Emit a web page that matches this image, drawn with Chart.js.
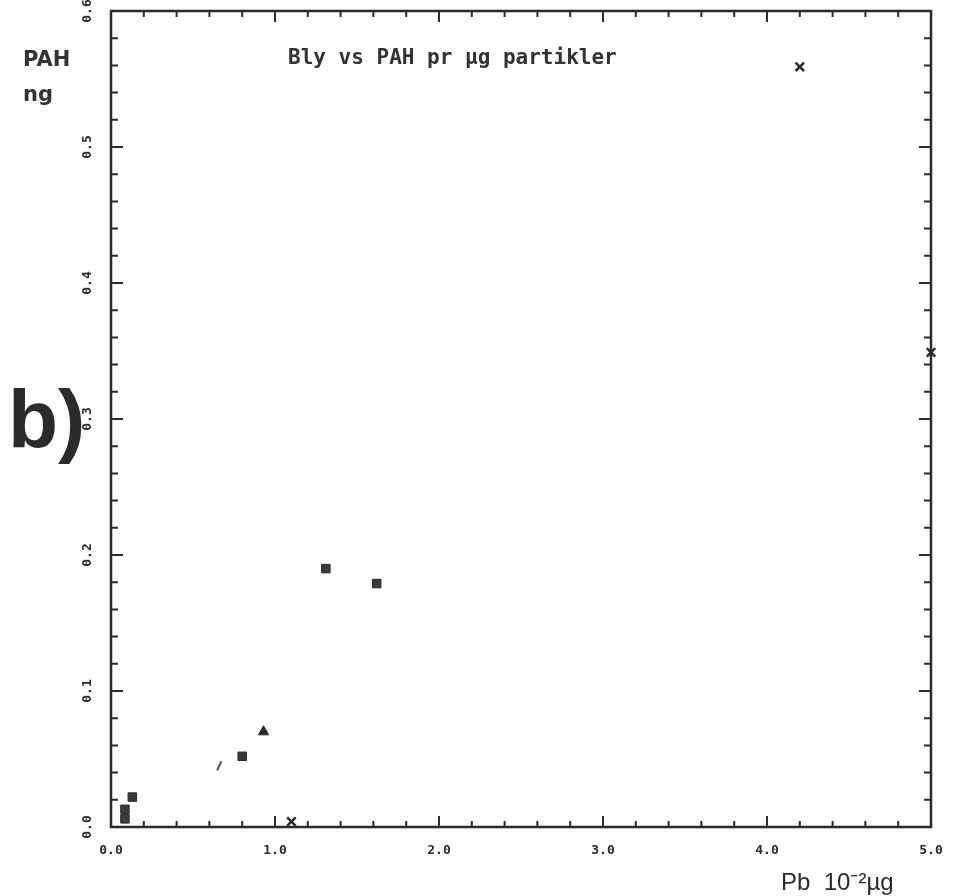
<!DOCTYPE html>
<html>
<head>
<meta charset="utf-8">
<script src="https://cdn.jsdelivr.net/npm/chart.js@4.4.1/dist/chart.umd.min.js"></script>
<style>
  html, body { margin: 0; padding: 0; background: #fdfdfd; }
  #wrap { width: 954px; height: 896px; }
</style>
</head>
<body>
<div id="wrap"><canvas id="plot" width="954" height="896"></canvas></div>
<script>
// Bly vs PAH
var crossX = [4.20, 5.00, 1.10];
var crossY = [0.559, 0.349, 0.004];

var squareX = [1.31, 1.62, 0.80, 0.13, 0.085, 0.085];
var squareY = [0.190, 0.179, 0.052, 0.022, 0.013, 0.006];

var triX = [0.93];
var triY = [0.070];

var slashX = [0.66];
var slashY = [0.045];

var xTicks = [0, 1, 2, 3, 4, 5];
var yTicks = [0, 0.1, 0.2, 0.3, 0.4, 0.5, 0.6];

const INK = "#2b2b2b";

function pts(xs, ys) {
  return xs.map(function(v, i) { return { x: v, y: ys[i] }; });
}

// frame, inward ticks and the loose texts
var framePlugin = {
  id: 'frame',
  afterDraw: function(chart) {
    var ctx = chart.ctx;
    var a = chart.chartArea;
    var sx = chart.scales.x, sy = chart.scales.y;
    ctx.save();
    ctx.strokeStyle = INK;
    ctx.lineWidth = 2.5;
    ctx.strokeRect(a.left, a.top, a.right - a.left, a.bottom - a.top);

    ctx.lineWidth = 2;
    ctx.beginPath();
    for (var i = 0; i <= 25; i++) {
      var v = i * 0.2;
      var px = sx.getPixelForValue(v);
      var len = (i % 5 === 0) ? 11 : 6;
      ctx.moveTo(px, a.bottom); ctx.lineTo(px, a.bottom - len);
      ctx.moveTo(px, a.top); ctx.lineTo(px, a.top + len);
    }
    for (var j = 0; j <= 30; j++) {
      var w = j * 0.02;
      var py = sy.getPixelForValue(w);
      var l2 = (j % 5 === 0) ? 12 : 7;
      ctx.moveTo(a.left, py); ctx.lineTo(a.left + l2, py);
      ctx.moveTo(a.right, py); ctx.lineTo(a.right - l2, py);
    }
    ctx.stroke();

    ctx.fillStyle = "#333";
    ctx.textBaseline = "alphabetic";
    ctx.font = "bold 21px 'DejaVu Sans Mono'";
    ctx.textAlign = "left";
    ctx.fillText("Bly vs PAH pr µg partikler", 288, 64);

    ctx.font = "bold 21px 'DejaVu Sans'";
    ctx.fillText("PAH", 23, 66);
    ctx.fillText("ng", 23, 101);

    ctx.fillStyle = INK;
    ctx.font = "bold 82px 'Liberation Sans'";
    ctx.fillText("b)", 8, 447);

    ctx.font = "24px 'Liberation Sans'";
    ctx.fillText("Pb  10⁻²µg", 781, 890);
    ctx.restore();
  }
};

var chart = new Chart(document.getElementById("plot"), {
  type: 'scatter',
  data: {
    datasets: [
      { data: pts(crossX, crossY), pointStyle: 'crossRot', radius: 6, borderWidth: 2.5,
        borderColor: INK, backgroundColor: INK, clip: false },
      { data: pts(squareX, squareY), pointStyle: 'rect', radius: 6, borderWidth: 1,
        borderColor: INK, backgroundColor: "#3a3a3a", clip: false },
      { data: pts(triX, triY), pointStyle: 'triangle', radius: 6, borderWidth: 1,
        borderColor: INK, backgroundColor: INK, clip: false },
      { data: pts(slashX, slashY), pointStyle: 'line', rotation: -65, radius: 5, borderWidth: 2,
        borderColor: "#555", clip: false }
    ]
  },
  options: {
    responsive: false,
    animation: false,
    devicePixelRatio: 1,
    layout: { padding: { left: 0, right: 23, top: 11, bottom: 0 } },
    plugins: {
      legend: { display: false },
      tooltip: { enabled: false },
      title: { display: false }
    },
    scales: {
      x: {
        type: 'linear', min: 0, max: 5,
        grid: { display: false, drawTicks: false },
        border: { display: false },
        afterBuildTicks: function(s) { s.ticks = xTicks.map(function(v) { return { value: v }; }); },
        ticks: {
          padding: 16, color: INK,
          font: { family: "'DejaVu Sans Mono'", size: 13, weight: 'bold' },
          callback: function(v) { return Number(v).toFixed(1); }
        },
        afterFit: function(s) { s.height = 69; s.paddingLeft = 0; s.paddingRight = 0; }
      },
      y: {
        type: 'linear', min: 0, max: 0.6,
        grid: { display: false, drawTicks: false },
        border: { display: false },
        afterBuildTicks: function(s) { s.ticks = yTicks.map(function(v) { return { value: v }; }); },
        ticks: {
          padding: 12, color: INK, minRotation: 90, maxRotation: 90, crossAlign: 'center',
          font: { family: "'DejaVu Sans Mono'", size: 13, weight: 'bold' },
          callback: function(v) { return Number(v).toFixed(1); }
        },
        afterFit: function(s) { s.width = 111; s.paddingTop = 0; s.paddingBottom = 0; }
      }
    }
  },
  plugins: [framePlugin]
});
</script>
</body>
</html>
